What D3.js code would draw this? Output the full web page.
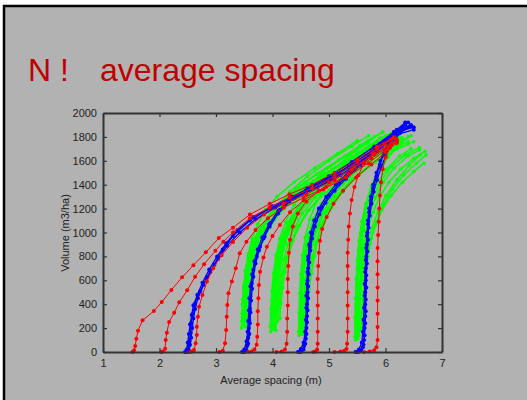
<!DOCTYPE html>
<html>
<head>
<meta charset="utf-8">
<script src="https://cdn.jsdelivr.net/npm/d3@7"></script>
<style>
  html, body { margin: 0; padding: 0; background: #fff; }
  svg { display: block; font-family: "Liberation Sans", Arial, sans-serif; }
</style>
</head>
<body>
<svg id="chart" width="527" height="400"></svg>
<script>
// N vs average spacing — stand trajectories (spacing m, volume m3/ha)

const xTicks = [1, 2, 3, 4, 5, 6, 7];
const yTicks = [0, 200, 400, 600, 800, 1000, 1200, 1400, 1600, 1800, 2000];

// ── Green: simulated trajectories, one cluster per initial spacing ──
const greenCluster1 = [
  [[3.45,200],[3.46,320],[3.47,440],[3.49,560],[3.52,680],[3.57,800],[3.65,920],[3.78,1040],[3.98,1170],[4.25,1290],[4.6,1400],[5.0,1510],[5.4,1620],[5.75,1720]],
  [[3.48,230],[3.49,350],[3.5,470],[3.52,590],[3.56,710],[3.62,830],[3.72,950],[3.86,1070],[4.06,1190],[4.35,1310],[4.72,1430],[5.12,1550],[5.5,1660],[5.85,1760]],
  [[3.52,260],[3.53,380],[3.55,500],[3.58,620],[3.62,740],[3.69,860],[3.8,980],[3.96,1100],[4.18,1220],[4.48,1340],[4.85,1460],[5.25,1580],[5.65,1700]],
  [[3.47,290],[3.48,410],[3.5,530],[3.53,650],[3.58,770],[3.66,890],[3.77,1010],[3.93,1130],[4.14,1250],[4.42,1370],[4.78,1490],[5.18,1610],[5.55,1730],[5.8,1800]],
  [[3.55,300],[3.57,420],[3.6,540],[3.64,660],[3.7,780],[3.78,900],[3.9,1020],[4.06,1140],[4.28,1250],[4.58,1360],[4.95,1470],[5.35,1580],[5.72,1690]],
  [[3.5,220],[3.51,360],[3.53,500],[3.56,640],[3.61,780],[3.69,910],[3.82,1040],[4.0,1170],[4.25,1300],[4.58,1420],[4.96,1540],[5.35,1650],[5.7,1750]],
  [[3.58,320],[3.6,440],[3.63,560],[3.67,680],[3.73,800],[3.82,920],[3.95,1040],[4.12,1160],[4.35,1270],[4.66,1380],[5.03,1490],[5.42,1600],[5.8,1710]],
  [[3.46,260],[3.47,400],[3.49,540],[3.52,680],[3.57,820],[3.64,950],[3.74,1070],[3.88,1190],[4.08,1300],[4.38,1420],[4.75,1540],[5.15,1660],[5.5,1770]],
  [[3.6,350],[3.62,480],[3.65,610],[3.7,740],[3.77,860],[3.87,980],[4.0,1090],[4.2,1200],[4.48,1310],[4.82,1420],[5.22,1530],[5.62,1650],[5.9,1730]],
  [[3.53,210],[3.54,350],[3.56,490],[3.6,630],[3.66,770],[3.75,900],[3.88,1030],[4.06,1160],[4.32,1290],[4.65,1410],[5.05,1530],[5.45,1640],[5.8,1740]],
  [[3.5,300],[3.51,450],[3.54,600],[3.6,750],[3.7,900],[3.85,1050],[4.05,1200],[4.3,1340],[4.62,1470],[5.0,1600],[5.4,1720],[5.7,1810]]
];
const greenCluster2 = [
  [[3.97,170],[3.98,300],[3.99,430],[4.01,560],[4.04,690],[4.09,820],[4.16,950],[4.27,1080],[4.44,1210],[4.7,1340],[5.05,1470],[5.45,1600],[5.85,1720],[6.05,1780]],
  [[4.0,190],[4.01,320],[4.02,450],[4.04,580],[4.07,710],[4.12,840],[4.2,970],[4.32,1100],[4.5,1230],[4.78,1360],[5.15,1490],[5.55,1620],[5.95,1740]],
  [[4.04,210],[4.05,340],[4.07,470],[4.09,600],[4.13,730],[4.19,860],[4.28,990],[4.42,1120],[4.62,1250],[4.92,1380],[5.3,1510],[5.7,1640],[6.05,1750]],
  [[3.98,230],[3.99,360],[4.01,490],[4.03,620],[4.07,750],[4.13,880],[4.22,1010],[4.36,1140],[4.56,1270],[4.85,1400],[5.22,1530],[5.62,1660],[5.95,1770]],
  [[4.07,250],[4.09,380],[4.12,510],[4.15,640],[4.2,770],[4.27,900],[4.38,1030],[4.53,1160],[4.75,1290],[5.05,1420],[5.42,1550],[5.82,1680],[6.15,1780]],
  [[4.02,200],[4.03,340],[4.05,480],[4.08,620],[4.12,760],[4.19,900],[4.29,1040],[4.45,1180],[4.68,1320],[5.0,1460],[5.38,1600],[5.78,1740],[6.0,1810]],
  [[4.1,270],[4.12,400],[4.15,530],[4.19,660],[4.25,790],[4.33,920],[4.45,1050],[4.62,1180],[4.85,1300],[5.15,1420],[5.52,1540],[5.9,1660],[6.2,1760]],
  [[4.13,280],[4.15,410],[4.18,540],[4.22,670],[4.28,800],[4.36,930],[4.48,1060],[4.65,1190],[4.9,1320],[5.22,1440],[5.6,1560],[6.0,1680],[6.3,1760]],
  [[3.96,210],[3.97,360],[3.99,510],[4.02,660],[4.06,810],[4.13,950],[4.23,1090],[4.38,1230],[4.6,1370],[4.9,1510],[5.28,1640],[5.7,1770],[5.95,1840]],
  [[4.06,180],[4.07,330],[4.09,480],[4.12,630],[4.16,780],[4.23,920],[4.33,1060],[4.48,1200],[4.7,1340],[5.0,1470],[5.35,1590],[5.75,1700],[6.1,1790]],
  [[4.0,260],[4.01,420],[4.04,580],[4.09,740],[4.17,900],[4.3,1060],[4.48,1220],[4.72,1370],[5.02,1510],[5.38,1650],[5.75,1780],[5.95,1840]]
];
const greenCluster3 = [
  [[4.47,140],[4.48,280],[4.49,420],[4.51,560],[4.53,700],[4.57,840],[4.63,980],[4.72,1110],[4.86,1240],[5.06,1370],[5.33,1500],[5.68,1630],[6.05,1750],[6.25,1800]],
  [[4.5,160],[4.51,300],[4.52,440],[4.54,580],[4.57,720],[4.61,860],[4.68,1000],[4.78,1130],[4.93,1260],[5.14,1390],[5.42,1520],[5.78,1650],[6.15,1760]],
  [[4.54,180],[4.55,320],[4.57,460],[4.59,600],[4.63,740],[4.68,880],[4.76,1020],[4.87,1150],[5.03,1280],[5.25,1410],[5.55,1540],[5.9,1660],[6.25,1760]],
  [[4.49,200],[4.5,340],[4.51,480],[4.53,620],[4.56,760],[4.61,900],[4.69,1040],[4.81,1180],[4.98,1320],[5.2,1460],[5.5,1600],[5.85,1730],[6.1,1800]],
  [[4.57,220],[4.59,360],[4.62,500],[4.65,640],[4.7,780],[4.77,920],[4.86,1060],[4.99,1190],[5.17,1320],[5.42,1450],[5.73,1570],[6.1,1690],[6.4,1760]],
  [[4.52,150],[4.53,300],[4.55,450],[4.58,600],[4.62,750],[4.68,900],[4.77,1040],[4.9,1180],[5.08,1310],[5.32,1440],[5.62,1570],[5.98,1700],[6.3,1790]],
  [[4.6,240],[4.62,380],[4.65,520],[4.69,660],[4.74,800],[4.81,940],[4.91,1080],[5.05,1210],[5.24,1340],[5.5,1470],[5.82,1590],[6.2,1700],[6.5,1760]],
  [[4.46,170],[4.47,330],[4.48,490],[4.5,650],[4.53,810],[4.58,960],[4.66,1110],[4.78,1260],[4.96,1400],[5.2,1540],[5.52,1670],[5.9,1790],[6.1,1830]],
  [[4.55,150],[4.56,300],[4.58,450],[4.61,600],[4.65,750],[4.71,900],[4.8,1040],[4.93,1170],[5.12,1300],[5.38,1430],[5.7,1550],[6.05,1660],[6.4,1740]]
];
const greenCluster4 = [
  [[5.47,100],[5.47,250],[5.48,400],[5.49,550],[5.5,700],[5.52,850],[5.56,1000],[5.62,1140],[5.71,1280],[5.84,1410],[6.02,1530],[6.25,1640],[6.45,1700]],
  [[5.5,120],[5.5,270],[5.51,420],[5.52,570],[5.54,720],[5.57,870],[5.61,1020],[5.68,1160],[5.78,1300],[5.92,1430],[6.1,1550],[6.35,1650],[6.6,1710]],
  [[5.53,140],[5.54,290],[5.55,440],[5.57,590],[5.59,740],[5.63,890],[5.69,1030],[5.78,1170],[5.9,1300],[6.06,1420],[6.27,1530],[6.5,1620],[6.7,1680]],
  [[5.48,160],[5.49,310],[5.5,460],[5.51,610],[5.53,760],[5.56,910],[5.6,1060],[5.66,1210],[5.75,1360],[5.88,1500],[6.05,1630],[6.25,1740],[6.4,1800]],
  [[5.56,180],[5.58,330],[5.6,480],[5.63,630],[5.67,780],[5.73,920],[5.82,1060],[5.94,1190],[6.1,1310],[6.3,1420],[6.5,1510],[6.68,1580]],
  [[5.51,110],[5.52,260],[5.53,410],[5.55,560],[5.57,710],[5.6,860],[5.65,1010],[5.72,1150],[5.82,1290],[5.96,1420],[6.15,1540],[6.4,1640],[6.6,1690]],
  [[5.58,200],[5.6,350],[5.62,500],[5.65,650],[5.69,800],[5.75,950],[5.84,1090],[5.96,1230],[6.12,1360],[6.32,1480],[6.55,1580],[6.72,1650]],
  [[5.46,130],[5.46,290],[5.47,450],[5.48,610],[5.5,770],[5.53,930],[5.58,1090],[5.65,1240],[5.75,1390],[5.89,1530],[6.08,1660],[6.3,1760],[6.45,1810]],
  [[5.52,150],[5.53,300],[5.55,450],[5.58,600],[5.62,750],[5.68,900],[5.76,1040],[5.87,1180],[6.01,1310],[6.2,1440],[6.42,1560],[6.62,1650]]
];

// ── Blue: bundles of trajectories ─────────────────────────────
const blueBundle1 = [
  [[2.47,0],[2.5,10],[2.52,50],[2.53,90],[2.55,159],[2.56,243],[2.59,321],[2.62,402],[2.72,508],[2.84,625],[2.97,731],[3.12,857],[3.3,970],[3.6,1100],[3.95,1200],[4.3,1280],[4.7,1370],[5.1,1470],[5.5,1590],[5.85,1710],[6.15,1820],[6.35,1900]],
  [[2.49,0],[2.52,15],[2.54,60],[2.56,120],[2.58,200],[2.6,280],[2.63,360],[2.68,450],[2.78,560],[2.9,670],[3.04,780],[3.2,890],[3.42,1000],[3.7,1110],[4.05,1210],[4.4,1290],[4.8,1380],[5.2,1480],[5.6,1600],[5.95,1730],[6.25,1840],[6.45,1890]],
  [[2.45,0],[2.48,20],[2.5,80],[2.52,150],[2.54,230],[2.57,310],[2.6,390],[2.67,480],[2.76,580],[2.88,690],[3.02,800],[3.18,910],[3.38,1020],[3.66,1130],[4.0,1220],[4.35,1300],[4.75,1390],[5.15,1490],[5.55,1610],[5.9,1730],[6.2,1830],[6.4,1880]]
];
const blueBundle2 = [
  [[3.48,0],[3.52,10],[3.55,50],[3.57,120],[3.58,200],[3.59,268],[3.6,360],[3.61,463],[3.63,575],[3.66,686],[3.72,798],[3.78,881],[3.86,965],[3.96,1080],[4.13,1190],[4.35,1280],[4.65,1360],[5.0,1450],[5.4,1570],[5.8,1700],[6.1,1810],[6.3,1880]],
  [[3.5,0],[3.54,15],[3.57,70],[3.59,150],[3.6,240],[3.61,330],[3.62,430],[3.64,530],[3.66,630],[3.7,740],[3.76,850],[3.84,950],[3.95,1050],[4.1,1160],[4.3,1260],[4.6,1350],[4.95,1440],[5.35,1550],[5.75,1680],[6.1,1800],[6.35,1915]],
  [[3.46,0],[3.5,20],[3.54,90],[3.56,170],[3.57,260],[3.58,350],[3.59,450],[3.61,550],[3.64,650],[3.68,760],[3.74,860],[3.82,960],[3.94,1070],[4.1,1180],[4.32,1280],[4.62,1370],[5.0,1470],[5.4,1590],[5.8,1720],[6.15,1840],[6.5,1880]]
];
const blueBundle3 = [
  [[4.47,0],[4.52,15],[4.56,50],[4.59,110],[4.6,200],[4.61,300],[4.61,400],[4.62,500],[4.62,600],[4.63,700],[4.63,798],[4.65,900],[4.68,1000],[4.74,1100],[4.82,1200],[4.95,1300],[5.12,1400],[5.35,1510],[5.62,1630],[5.9,1740],[6.15,1840],[6.4,1920]],
  [[4.5,0],[4.55,20],[4.58,70],[4.6,150],[4.61,250],[4.62,350],[4.63,450],[4.63,550],[4.64,650],[4.65,750],[4.67,850],[4.7,950],[4.75,1050],[4.83,1150],[4.94,1250],[5.1,1350],[5.3,1450],[5.55,1560],[5.85,1680],[6.1,1780],[6.3,1870]],
  [[4.45,0],[4.5,25],[4.55,80],[4.58,170],[4.59,270],[4.6,370],[4.6,470],[4.61,570],[4.62,670],[4.63,770],[4.66,880],[4.7,990],[4.77,1100],[4.87,1210],[5.0,1310],[5.18,1410],[5.42,1520],[5.7,1640],[5.98,1760],[6.25,1860],[6.45,1900]]
];
const blueBundle4 = [
  [[5.49,0],[5.55,10],[5.6,40],[5.62,100],[5.63,200],[5.64,300],[5.64,400],[5.64,500],[5.65,600],[5.65,700],[5.66,800],[5.67,900],[5.68,1000],[5.69,1100],[5.71,1200],[5.74,1300],[5.78,1400],[5.84,1500],[5.91,1600],[5.98,1690],[6.08,1780],[6.2,1860],[6.35,1920]],
  [[5.52,0],[5.57,15],[5.61,60],[5.63,140],[5.64,240],[5.65,340],[5.65,440],[5.66,540],[5.66,640],[5.67,740],[5.68,840],[5.69,940],[5.7,1040],[5.72,1140],[5.75,1240],[5.79,1340],[5.85,1440],[5.92,1540],[6.0,1640],[6.1,1740],[6.25,1830],[6.45,1890]],
  [[5.47,0],[5.53,20],[5.58,80],[5.6,170],[5.61,270],[5.62,370],[5.63,470],[5.63,570],[5.64,670],[5.65,770],[5.66,870],[5.67,970],[5.69,1070],[5.71,1170],[5.74,1270],[5.78,1370],[5.84,1470],[5.9,1570],[5.98,1670],[6.08,1760],[6.2,1820],[6.5,1860]]
];

// ── Red: single trajectories ──────────────────────────────────
const redLines = [
  [[1.52,0],[1.55,15],[1.57,50],[1.59,111],[1.62,178],[1.70,265],[1.90,343],[2.04,418],[2.21,519],[2.40,625],[2.60,726],[2.82,834],[3.05,954],[3.3,1040],[3.6,1150],[3.95,1240],[4.3,1320],[4.7,1400],[5.1,1500],[5.5,1610],[5.85,1720],[6.15,1800]],
  [[2.03,0],[2.06,5],[2.10,28],[2.11,100],[2.13,162],[2.17,251],[2.26,329],[2.35,416],[2.49,516],[2.63,630],[2.79,734],[2.99,848],[3.13,923],[3.3,1000],[3.6,1120],[3.95,1210],[4.3,1290],[4.7,1370],[5.1,1470],[5.5,1590],[5.85,1700],[6.1,1780]],
  [[2.54,0],[2.58,5],[2.61,17],[2.64,73],[2.66,142],[2.66,212],[2.68,296],[2.70,379],[2.76,477],[2.84,589],[2.95,700],[3.1,810],[3.3,920],[3.55,1040],[3.85,1150],[4.2,1240],[4.6,1320],[5.0,1420],[5.4,1530],[5.8,1650],[6.1,1740]],
  [[3.06,0],[3.12,10],[3.16,73],[3.18,184],[3.19,296],[3.20,393],[3.22,491],[3.28,589],[3.35,700],[3.42,826],[3.54,923],[3.7,1020],[3.92,1120],[4.2,1210],[4.55,1290],[4.95,1380],[5.35,1490],[5.75,1620],[6.05,1720],[6.2,1780]],
  [[3.57,0],[3.63,5],[3.68,20],[3.72,60],[3.73,128],[3.74,230],[3.74,340],[3.75,450],[3.76,560],[3.78,672],[3.84,790],[3.9,880],[4.0,970],[4.13,1063],[4.31,1170],[4.55,1270],[4.9,1360],[5.3,1460],[5.7,1580],[6.0,1690],[6.2,1760]],
  [[4.07,0],[4.16,5],[4.22,20],[4.25,70],[4.26,170],[4.26,280],[4.27,390],[4.27,500],[4.27,610],[4.28,720],[4.29,830],[4.31,940],[4.36,1050],[4.45,1160],[4.6,1260],[4.82,1350],[5.1,1440],[5.45,1550],[5.8,1660],[6.1,1750]],
  [[4.72,0],[4.76,5],[4.79,20],[4.8,70],[4.8,170],[4.8,280],[4.8,390],[4.8,500],[4.8,610],[4.81,720],[4.82,830],[4.84,930],[4.88,1030],[4.96,1130],[5.08,1240],[5.25,1350],[5.48,1460],[5.75,1570],[6.0,1670],[6.2,1750]],
  [[5.1,0],[5.2,5],[5.27,10],[5.31,25],[5.32,70],[5.33,170],[5.33,280],[5.33,390],[5.33,500],[5.33,610],[5.33,720],[5.33,830],[5.34,940],[5.35,1050],[5.37,1160],[5.4,1272],[5.45,1380],[5.52,1480],[5.62,1580],[5.78,1670],[5.98,1740],[6.15,1790]],
  [[5.62,0],[5.72,5],[5.8,15],[5.84,40],[5.86,100],[5.86,210],[5.86,320],[5.86,430],[5.86,540],[5.86,650],[5.86,760],[5.86,870],[5.87,980],[5.88,1090],[5.89,1200],[5.9,1310],[5.92,1420],[5.95,1530],[6.0,1630],[6.08,1710],[6.2,1770]]
];

const greenLines = [...greenCluster1, ...greenCluster2, ...greenCluster3, ...greenCluster4];
const blueLines = [...blueBundle1, ...blueBundle2, ...blueBundle3, ...blueBundle4];

const svg = d3.select('#chart');
const W = 527, H = 400;

// ── Slide background ─────────────────────────────────────────
svg.append('rect').attr('width', W).attr('height', H).attr('fill', '#fff');
svg.append('rect')
  .attr('x', 4).attr('y', 6).attr('width', W - 4).attr('height', H - 6)
  .attr('fill', '#b2b2b2');
svg.append('line').attr('x1', 3).attr('x2', W).attr('y1', 6).attr('y2', 6)
  .attr('stroke', '#000').attr('stroke-width', 2.5);
svg.append('line').attr('x1', 4).attr('x2', 4).attr('y1', 5).attr('y2', H)
  .attr('stroke', '#000').attr('stroke-width', 2.5);

svg.append('text')
  .attr('x', 28).attr('y', 81)
  .attr('fill', '#c00000').attr('font-size', '32px')
  .text('N !');
svg.append('text')
  .attr('x', 100).attr('y', 81)
  .attr('fill', '#c00000').attr('font-size', '32px')
  .text('average spacing');

// ── Scales ───────────────────────────────────────────────────
const x = d3.scaleLinear().domain([1, 7]).range([103, 442]);
const y = d3.scaleLinear().domain([0, 2000]).range([352, 113]);

const line = d3.line().x(d => x(d[0])).y(d => y(d[1]));

// ── Series (green behind, then blue, red on top) ─────────────
function drawSeries(data, color, width, r, cls) {
  const grp = svg.append('g').attr('class', cls);
  grp.selectAll('path').data(data).join('path')
    .attr('d', line)
    .attr('fill', 'none')
    .attr('stroke', color)
    .attr('stroke-width', width)
    .attr('stroke-linejoin', 'round');
  grp.selectAll('g.pts').data(data).join('g').attr('class', 'pts')
    .selectAll('circle').data(d => d).join('circle')
    .attr('cx', d => x(d[0]))
    .attr('cy', d => y(d[1]))
    .attr('r', r)
    .attr('fill', color);
}

drawSeries(greenLines, '#00ff00', 1.5, 1.8, 'green');
drawSeries(blueLines, '#0000ff', 1.3, 2, 'blue');
drawSeries(redLines, '#ff0000', 1, 2, 'red');

// ── Axes (box with inward ticks) ─────────────────────────────
const axisColor = '#333';
function styleAxis(sel) {
  sel.selectAll('path').attr('stroke', axisColor).attr('stroke-width', 2);
  sel.selectAll('line').attr('stroke', axisColor).attr('stroke-width', 1.2);
  sel.selectAll('text').attr('fill', '#222').attr('font-size', '11px')
    .attr('font-family', '"Liberation Sans", Arial, sans-serif');
}

const fmt = d3.format('d');
svg.append('g')
  .attr('transform', 'translate(0,352)')
  .call(d3.axisBottom(x).tickValues(xTicks).tickFormat(fmt).tickSize(-4).tickSizeOuter(0).tickPadding(7))
  .call(styleAxis);
svg.append('g')
  .attr('transform', 'translate(0,113)')
  .call(d3.axisTop(x).tickValues(xTicks).tickSize(-4).tickSizeOuter(0).tickFormat(''))
  .call(styleAxis);
svg.append('g')
  .attr('transform', 'translate(103,0)')
  .call(d3.axisLeft(y).tickValues(yTicks).tickFormat(fmt).tickSize(-4).tickSizeOuter(0).tickPadding(6))
  .call(styleAxis);
svg.append('g')
  .attr('transform', 'translate(442,0)')
  .call(d3.axisRight(y).tickValues(yTicks).tickSize(-4).tickSizeOuter(0).tickFormat(''))
  .call(styleAxis);

// ── Axis titles ──────────────────────────────────────────────
svg.append('text')
  .attr('x', 271).attr('y', 384)
  .attr('text-anchor', 'middle')
  .attr('fill', '#222').attr('font-size', '11px')
  .text('Average spacing (m)');
svg.append('text')
  .attr('transform', 'translate(69,233) rotate(-90)')
  .attr('text-anchor', 'middle')
  .attr('fill', '#222').attr('font-size', '11px')
  .text('Volume (m3/ha)');
</script>
</body>
</html>
